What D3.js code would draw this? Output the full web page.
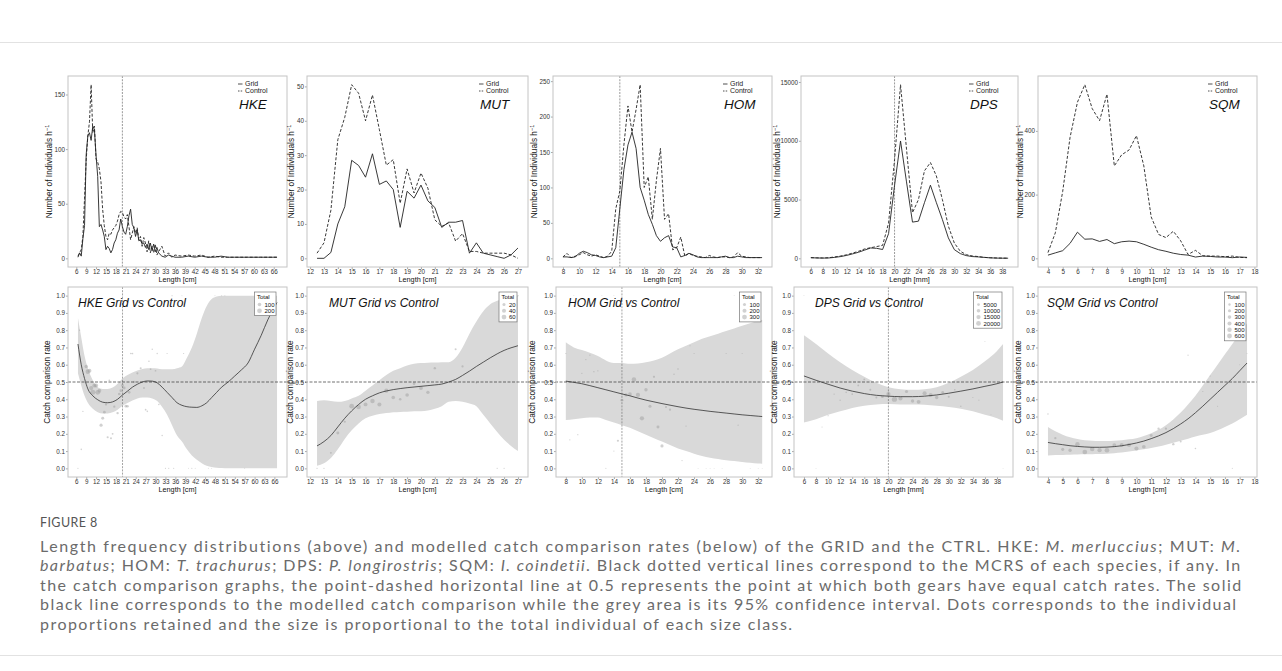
<!DOCTYPE html>
<html>
<head>
<meta charset="utf-8">
<script src="https://cdn.jsdelivr.net/npm/d3@7/dist/d3.min.js"></script>
<style>
  body { margin: 0; background: #fff; }
  #fig text { font-family: "Liberation Sans", Arial, sans-serif; }
  #fig .caption text { font-family: "Lato", "Open Sans", sans-serif; }
</style>
</head>
<body>
<svg id="fig" width="1282" height="671"></svg>
<script>
// ---------- length frequency (top row) ----------
const hkeLen = [6.5,7,7.5,8,8.5,9,9.5,10,10.5,11,11.5,12,12.5,13,13.5,14,14.5,15,15.5,16,16.5,17,17.5,18,18.5,19,19.5,20,20.5,21,21.5,22,22.5,23,23.5,24,24.5,25,25.5,26,26.5,27,27.5,28,28.5,29,29.5,30,30.5,31,32,33,34,35,36,38,40,42,44,46,48,50,52,54,56,58,60,62,64,66,67];
const hkeGrid = [1,5,2,18,30,95,112,115,108,121,118,94,75,29,31,26,20,8,11,9,5,8,14,17,23,26,36,29,24,22,29,39,45,31,28,20,26,16,17,13,14,10,13,8,14,7,13,6,10,5,2,1,3,2,1,1,2,1,2,1,1,2,1,1,1,1,1,1,1,1,1];
const hkeCtrl = [2,5,8,20,55,90,112,125,159,115,121,91,88,82,70,45,30,20,17,23,22,26,28,30,34,40,43,42,38,36,40,29,17,23,29,23,28,17,20,11,19,14,6,16,5,11,5,13,3,6,11,2,5,1,3,2,3,2,3,1,2,1,1,1,1,1,1,1,1,1,1];

const mutLen = [12.5,13,13.5,14,14.5,15,15.5,16,16.5,17,17.5,18,18.5,19,19.5,20,20.5,21,21.5,22,22.5,23,23.5,24,24.5,25,25.5,26,26.5,27];
const mutGrid = [0,0,1.7,10,15,28.5,27,23.6,30.4,21.5,22.5,20,9,19.5,17.5,21.3,16.7,14.8,9,10.5,10.5,11,1.5,4.5,1.5,1,0.5,0,1,3];
const mutCtrl = [1.5,4.5,14,34.5,41,50.5,48,40,47.5,37.4,27.1,28.7,16,26,19,24.8,20.4,11.2,9.3,10.3,5,7.2,2,2,1.5,1.5,1.5,1.5,1,0];

const homLen = [8,8.5,9,9.5,10,10.5,11,11.5,12,12.5,13,13.5,14,14.5,15,15.5,16,16.5,17,17.5,18,18.5,19,19.5,20,20.5,21,21.5,22,22.5,23,23.5,24,24.5,25,25.5,26,26.5,27,27.5,28,28.5,29,29.5,30,30.5,31,31.5,32,32.5];
const homGrid = [2,2,1,2,7,10,8,5,4,2,1,2,3,15,70,125,160,178,155,100,82,62,48,32,24,29,32,16,15,2,4,7,5,2,1,1,1,1,1,2,3,1,1,3,2,1,1,1,1,1];
const homCtrl = [2,7,1,3,5,8,5,3,5,3,1,3,10,70,95,160,215,178,210,245,100,115,55,110,155,55,63,12,15,30,3,7,4,3,2,1,4,2,1,2,2,1,2,8,3,2,1,1,1,1];

const dpsLen = [6,7,8,9,10,11,12,13,14,15,16,17,18,19,20,21,22,23,24,25,26,27,28,29,30,31,32,33,34,35,36,37,38,39];
const dpsGrid = [50,30,20,30,80,150,250,380,520,700,880,850,750,2100,6200,9980,6500,3080,3160,4730,6220,4730,3300,1740,740,400,230,150,120,80,40,20,10,10];
const dpsCtrl = [60,40,30,50,120,200,300,450,600,800,900,1000,1100,3000,8400,14770,9300,3880,5000,7440,8150,7000,5000,2740,1300,600,310,200,150,80,50,30,20,10];

const sqmLen = [4,4.5,5,5.5,6,6.5,7,7.5,8,8.5,9,9.5,10,10.5,11,11.5,12,12.5,13,13.5,14,14.5,15,15.5,16,16.5,17,17.5];
const sqmGrid = [10,17,24,47,82,60,61,53,59,46,52,54,52,44,35,27,22,16,12,10,4,7,6,4,4,2,4,3];
const sqmCtrl = [18,80,210,380,490,545,470,432,515,290,325,340,385,290,130,75,65,85,55,12,25,8,7,7,5,7,3,2];

// ---------- catch comparison (bottom row): model, 95% CI ----------
const hkeFitLen = [6.5,7.5,8.5,9.5,11,12.5,14,15.5,17,18.5,20,21.5,23,24.5,26,27.5,29,30.5,32,33.5,35,36.5,38,39.5,41,42.5,44,45.5,47,48.5,50,52,54,56,58,60,62,64,66.8];
const hkeFit = [0.72,0.60,0.52,0.46,0.42,0.397,0.383,0.38,0.385,0.40,0.425,0.447,0.47,0.487,0.50,0.506,0.505,0.495,0.47,0.44,0.41,0.38,0.365,0.357,0.354,0.353,0.362,0.38,0.41,0.44,0.47,0.50,0.535,0.57,0.61,0.69,0.77,0.86,0.96];
const hkeUpp = [0.87,0.757,0.65,0.58,0.51,0.47,0.46,0.46,0.468,0.49,0.52,0.54,0.555,0.566,0.575,0.58,0.58,0.578,0.574,0.574,0.574,0.58,0.59,0.64,0.70,0.78,0.87,0.94,0.98,0.995,1,1,1,1,1,1,1,1,1];
const hkeLow = [0.55,0.48,0.42,0.38,0.345,0.325,0.318,0.318,0.325,0.34,0.362,0.378,0.393,0.405,0.41,0.41,0.405,0.39,0.355,0.31,0.25,0.19,0.155,0.11,0.075,0.05,0.03,0.015,0.008,0.004,0.002,0,0,0,0,0,0,0,0];

const mutFitLen = mutLen;
const mutFit = [0.13,0.155,0.19,0.24,0.29,0.333,0.37,0.40,0.42,0.437,0.448,0.456,0.462,0.467,0.471,0.475,0.479,0.483,0.488,0.50,0.515,0.538,0.563,0.59,0.615,0.64,0.663,0.683,0.698,0.71];
const mutUpp = [0.39,0.395,0.39,0.385,0.39,0.405,0.42,0.45,0.48,0.51,0.54,0.565,0.58,0.595,0.605,0.61,0.612,0.613,0.615,0.615,0.64,0.70,0.78,0.85,0.91,0.95,0.97,0.98,0.99,1.0];
const mutLow = [0.015,0.03,0.06,0.11,0.17,0.22,0.26,0.29,0.305,0.315,0.32,0.325,0.327,0.328,0.33,0.33,0.335,0.345,0.36,0.385,0.39,0.385,0.375,0.36,0.31,0.26,0.21,0.165,0.13,0.10];

const homFitLen = [8,9,10,11,12,13,14,15,16,17,18,19,20,21,22,23,24,25,26,27,28,29,30,31,32,32.5];
const homFit = [0.505,0.498,0.49,0.479,0.467,0.455,0.443,0.431,0.42,0.407,0.395,0.385,0.375,0.366,0.357,0.349,0.342,0.336,0.33,0.325,0.32,0.315,0.31,0.306,0.302,0.30];
const homUpp = [0.73,0.70,0.685,0.67,0.65,0.625,0.61,0.61,0.605,0.607,0.615,0.625,0.64,0.665,0.69,0.71,0.73,0.75,0.765,0.78,0.795,0.81,0.825,0.84,0.855,0.86];
const homLow = [0.28,0.285,0.29,0.295,0.295,0.28,0.265,0.25,0.235,0.215,0.195,0.175,0.155,0.135,0.115,0.10,0.085,0.072,0.062,0.054,0.047,0.042,0.037,0.032,0.028,0.027];

const dpsFitLen = [6,8,10,12,14,16,18,20,22,24,26,28,30,32,34,36,38,39];
const dpsFit = [0.535,0.51,0.487,0.465,0.447,0.433,0.423,0.418,0.415,0.415,0.418,0.425,0.435,0.447,0.46,0.475,0.49,0.50];
const dpsUpp = [0.77,0.72,0.665,0.615,0.57,0.53,0.495,0.47,0.458,0.455,0.458,0.47,0.495,0.53,0.57,0.62,0.68,0.72];
const dpsLow = [0.265,0.285,0.31,0.33,0.35,0.362,0.37,0.372,0.37,0.37,0.368,0.362,0.355,0.345,0.33,0.31,0.29,0.275];

const sqmFitLen = sqmLen;
const sqmFit = [0.15,0.143,0.137,0.131,0.127,0.124,0.122,0.122,0.123,0.126,0.131,0.138,0.147,0.158,0.172,0.188,0.207,0.23,0.257,0.287,0.322,0.36,0.40,0.44,0.48,0.52,0.565,0.61];
const sqmUpp = [0.24,0.215,0.195,0.18,0.17,0.163,0.16,0.158,0.158,0.16,0.163,0.168,0.175,0.187,0.203,0.223,0.25,0.283,0.323,0.37,0.42,0.48,0.54,0.60,0.66,0.72,0.78,0.84];
const sqmLow = [0.075,0.077,0.078,0.079,0.08,0.081,0.082,0.083,0.085,0.088,0.092,0.097,0.103,0.11,0.118,0.127,0.137,0.148,0.16,0.172,0.185,0.195,0.205,0.22,0.24,0.26,0.285,0.31];

// ---------- observed proportions (dots) ----------
const hkePtLen  = [6.5,7,7.5,8,9,9.5,10,10.5,11,11.5,12,12.5,13,13.5,14,14.5,15,15.5,16,16.5,17,17.5,18.5,19,19.5,20,20.5,21,21.5,22,22.5,23,23.5,24.5,25.5,26.5,27,27.5,28,28.5,29,30,30.5,31,32,33,33.5,34,35,35.5,38,38.5,40,41,42,46,47,48,50,51,57];
const hkePtRate = [0,0.80,0.11,0.33,0.59,0.56,0.565,0.465,0.44,0.48,0.48,0.44,0.45,0.25,0.29,0.325,0.37,0.18,0.51,0.175,0.20,0.357,0.32,0.43,0.45,0.48,0.465,0.36,0.36,0.44,0.665,0.665,0.50,0.55,0.58,0.465,0.34,0.33,0.62,0.575,0.69,0.565,0.665,0.37,0.19,0,0.665,0,1,0,1,0.665,0,0,0,0,0,1,1,1,0];
const hkePtTot  = [2,5,9,6,90,180,120,150,220,140,130,200,110,70,60,50,30,25,12,20,15,30,35,40,50,60,55,45,40,50,10,12,30,25,20,18,12,10,8,15,6,12,5,8,6,3,3,2,2,2,1,3,1,2,1,1,1,1,1,1,1];

const mutPtLen  = [12.5,13,13.5,14,14.5,15,15.5,16,16.5,17,17.5,18,18.5,19,19.5,20,20.5,21,21.5,22.5,23,24,25.5,26,27];
const mutPtRate = [0,0,0.09,0.205,0.27,0.36,0.355,0.37,0.39,0.37,0.45,0.41,0.40,0.425,0.49,0.465,0.44,0.58,0.50,0.69,0.59,0.495,0,0,1];
const mutPtTot  = [1,1,5,18,8,60,55,35,50,40,45,30,12,30,15,35,25,10,8,6,8,3,1,1,2];

const homPtLen  = [8,8.5,9,9.5,10,10.5,11,11.5,12,12.5,13,14,14,14.5,15,15.5,16,16.5,17,17.5,18,18.5,19,19.5,20,20.5,21,21.5,22,22.5,23,23.5,24,24.5,25.5,26,26.5,27.5,28,29,29.5,30,31,32,32.5];
const homPtRate = [0.665,0.165,1,0.195,0.55,0.63,0.655,0.56,0.565,1,0,1,0.10,0.16,0.395,0.425,0.43,0.515,0.425,0.29,0.455,0.36,0.53,0.24,0.13,0.355,0.34,0.545,0.575,0.045,0.245,0.71,0.665,0,0,0,0,0,0.665,1,0.25,0.665,0,0,0];
const homPtTot  = [3,5,1,4,8,6,5,8,6,1,2,1,3,40,90,120,160,250,220,230,130,100,40,90,110,35,40,8,15,5,6,4,3,1,1,1,1,1,3,1,6,3,1,1,1];

const dpsPtLen  = [6,8,9,10,11,12,13,14,15,16,17,18,19,20,21,22,23,24,25,26,27,28,29,30,31,32,34,35,36,37,39];
const dpsPtRate = [1,0,0.24,0.305,0.43,0.395,0.44,0.43,0.48,0.515,0.455,0.41,0.415,0.43,0.40,0.405,0.445,0.39,0.385,0.435,0.425,0.41,0.44,0.415,0.455,0.36,0.41,0.395,0.735,0.31,0];
const dpsPtTot  = [50,60,150,300,500,700,900,1200,1500,1800,1900,1800,5000,14000,24000,14000,7000,8000,12000,14000,12000,8500,4500,2200,1000,600,250,150,80,50,20];

const sqmPtLen  = [4,4.5,5,5.5,6,6.5,7,7.5,8,8.5,9,9.5,10,10.5,11,11.5,12,12.5,13,13.5,14,14.5,15,15.5,16.5,17,17.5];
const sqmPtRate = [0.315,0.175,0.11,0.105,0.14,0.095,0.112,0.105,0.105,0.135,0.135,0.135,0.115,0.125,0.19,0.23,0.23,0.14,0.155,0.655,0.115,0.445,0.535,0.36,0,0.6,0.665];
const sqmPtTot  = [20,90,200,250,500,550,520,450,560,330,360,380,420,320,170,100,90,100,60,10,25,8,6,6,4,3,3];

// ---------- ticks and legends ----------
const hkeXTicks = [6,9,12,15,18,21,24,27,30,33,36,39,42,45,48,51,54,57,60,63,66];
const mutXTicks = [12,13,14,15,16,17,18,19,20,21,22,23,24,25,26,27];
const homXTicks = [8,10,12,14,16,18,20,22,24,26,28,30,32];
const dpsXTicks = [6,8,10,12,14,16,18,20,22,24,26,28,30,32,34,36,38];
const sqmXTicks = [4,5,6,7,8,9,10,11,12,13,14,15,16,17,18];
const hkeYTicks = [0,50,100,150];
const mutYTicks = [0,10,20,30,40,50];
const homYTicks = [0,50,100,150,200,250];
const dpsYTicks = [0,5000,10000,15000];
const sqmYTicks = [0,200,400];
const rateTicks = [0,0.1,0.2,0.3,0.4,0.5,0.6,0.7,0.8,0.9,1.0];

const hkeTotals = [100,200];
const mutTotals = [20,40,60];
const homTotals = [100,200,300];
const dpsTotals = [5000,10000,15000,20000];
const sqmTotals = [100,200,300,400,500,600];

const species = [
    {code: 'HKE', unit: 'cm', mcrs: 20,
     top: {len: hkeLen, grid: hkeGrid, ctrl: hkeCtrl, xt: hkeXTicks, yt: hkeYTicks},
     bot: {len: hkeFitLen, fit: hkeFit, upp: hkeUpp, low: hkeLow, pl: hkePtLen, pr: hkePtRate, pt: hkePtTot, xt: hkeXTicks, totals: hkeTotals}},
    {code: 'MUT', unit: 'cm', mcrs: null,
     top: {len: mutLen, grid: mutGrid, ctrl: mutCtrl, xt: mutXTicks, yt: mutYTicks},
     bot: {len: mutFitLen, fit: mutFit, upp: mutUpp, low: mutLow, pl: mutPtLen, pr: mutPtRate, pt: mutPtTot, xt: mutXTicks, totals: mutTotals}},
    {code: 'HOM', unit: 'cm', mcrs: 15,
     top: {len: homLen, grid: homGrid, ctrl: homCtrl, xt: homXTicks, yt: homYTicks},
     bot: {len: homFitLen, fit: homFit, upp: homUpp, low: homLow, pl: homPtLen, pr: homPtRate, pt: homPtTot, xt: homXTicks, totals: homTotals}},
    {code: 'DPS', unit: 'mm', mcrs: 20,
     top: {len: dpsLen, grid: dpsGrid, ctrl: dpsCtrl, xt: dpsXTicks, yt: dpsYTicks},
     bot: {len: dpsFitLen, fit: dpsFit, upp: dpsUpp, low: dpsLow, pl: dpsPtLen, pr: dpsPtRate, pt: dpsPtTot, xt: dpsXTicks, totals: dpsTotals}},
    {code: 'SQM', unit: 'cm', mcrs: null,
     top: {len: sqmLen, grid: sqmGrid, ctrl: sqmCtrl, xt: sqmXTicks, yt: sqmYTicks},
     bot: {len: sqmFitLen, fit: sqmFit, upp: sqmUpp, low: sqmLow, pl: sqmPtLen, pr: sqmPtRate, pt: sqmPtTot, xt: sqmXTicks, totals: sqmTotals}}
];

// panel frames in page pixels
const topRow = {top: 76, bottom: 267, left: [68, 307, 553, 801, 1038], right: [287, 528, 772, 1018, 1257], yTitle: [16, 13, 16, 21, 15]};
const botRow = {top: 287, bottom: 477, left: [68, 307, 556, 794, 1038], right: [287, 528, 772, 1013, 1257], yTitle: [18, 14, 21, 17, 17], titleDx: [10, 22, 12, 21, 9]};

const frameColor = '#c4c4c4';
const ribbonColor = '#d9d9d9';

const svg = d3.select('#fig');

// page rules
svg.append('line').attr('x1', 0).attr('x2', 1282).attr('y1', 42.5).attr('y2', 42.5).attr('stroke', '#e2e2e2');
svg.append('line').attr('x1', 0).attr('x2', 1282).attr('y1', 655.5).attr('y2', 655.5).attr('stroke', '#e2e2e2');

function styleAxis(g) {
    g.select('.domain').remove();
    g.attr('font-family', null).attr('font-size', null);
    g.selectAll('line').attr('stroke', '#555').attr('stroke-width', 0.5);
    g.selectAll('text').attr('font-size', 6.3).attr('fill', '#333');
}

function expand(ext) {
    const pad = (ext[1] - ext[0]) * 0.05;
    return [ext[0] - pad, ext[1] + pad];
}

function yTitle(g, x, yMid, label, sup) {
    const t = g.append('text')
        .attr('transform', `translate(${x},${yMid}) rotate(-90)`)
        .attr('text-anchor', 'middle')
        .attr('font-size', 8.3)
        .attr('fill', '#111');
    t.append('tspan').text(label);
    if (sup) t.append('tspan').attr('dy', -3).attr('font-size', 5.5).text(sup);
}

function drawTop(sp, i) {
    const d = sp.top;
    const left = topRow.left[i], right = topRow.right[i];
    const x = d3.scaleLinear().domain(expand(d3.extent(d.len))).range([left, right]);
    const y = d3.scaleLinear().domain(expand([0, d3.max(d.grid.concat(d.ctrl))])).range([topRow.bottom, topRow.top]);
    const g = svg.append('g');

    g.append('g').attr('transform', `translate(0,${topRow.bottom})`)
        .call(d3.axisBottom(x).tickValues(d.xt).tickSize(2).tickPadding(1).tickFormat(d3.format('d')))
        .call(styleAxis);
    g.append('g').attr('transform', `translate(${left},0)`)
        .call(d3.axisLeft(y).tickValues(d.yt).tickSize(2).tickPadding(1).tickFormat(d3.format('d')))
        .call(styleAxis);

    if (sp.mcrs) {
        g.append('line')
            .attr('x1', x(sp.mcrs)).attr('x2', x(sp.mcrs))
            .attr('y1', topRow.top).attr('y2', topRow.bottom)
            .attr('stroke', '#555').attr('stroke-width', 0.6).attr('stroke-dasharray', '2,1.2');
    }

    const line = d3.line().x((v, j) => x(d.len[j])).y(v => y(v));
    g.append('path').datum(d.ctrl).attr('d', line)
        .attr('fill', 'none').attr('stroke', '#222').attr('stroke-width', 0.9).attr('stroke-dasharray', '3,1.8');
    g.append('path').datum(d.grid).attr('d', line)
        .attr('fill', 'none').attr('stroke', '#222').attr('stroke-width', 0.9);

    g.append('rect').attr('x', left).attr('y', topRow.top)
        .attr('width', right - left).attr('height', topRow.bottom - topRow.top)
        .attr('fill', 'none').attr('stroke', frameColor).attr('stroke-width', 1);

    // legend + species code
    const lx = right - 49;
    const keys = [['Grid', null], ['Control', '1.5,1.2']];
    keys.forEach(function(k, j) {
        const ly = topRow.top + 8 + j * 7;
        g.append('line').attr('x1', lx).attr('x2', lx + 4.5).attr('y1', ly).attr('y2', ly)
            .attr('stroke', '#222').attr('stroke-width', 0.8).attr('stroke-dasharray', k[1]);
        g.append('text').attr('x', lx + 7).attr('y', ly + 2.3).attr('font-size', 7).attr('fill', '#222').text(k[0]);
    });
    g.append('text').attr('x', lx + 1).attr('y', topRow.top + 33)
        .attr('font-size', 13.5).attr('font-style', 'italic').attr('fill', '#111').text(sp.code);

    g.append('text').attr('x', (left + right) / 2).attr('y', topRow.bottom + 14.5)
        .attr('text-anchor', 'middle').attr('font-size', 7.3).attr('fill', '#111')
        .text('Length [' + sp.unit + ']');
    yTitle(g, left - topRow.yTitle[i], (topRow.top + topRow.bottom) / 2, 'Number of Individuals h', '\u22121');
}

function drawBottom(sp, i) {
    const b = sp.bot;
    const left = botRow.left[i], right = botRow.right[i];
    const x = d3.scaleLinear().domain(expand(d3.extent(b.len.concat(b.pl)))).range([left, right]);
    const y = d3.scaleLinear().domain(expand([0, 1])).range([botRow.bottom, botRow.top]);
    const r = d3.scaleSqrt().domain([0, d3.max(b.totals)]).range([0.35, 2.4]);
    const g = svg.append('g');

    g.append('g').attr('transform', `translate(0,${botRow.bottom})`)
        .call(d3.axisBottom(x).tickValues(b.xt).tickSize(2).tickPadding(1).tickFormat(d3.format('d')))
        .call(styleAxis);
    g.append('g').attr('transform', `translate(${left},0)`)
        .call(d3.axisLeft(y).tickValues(rateTicks).tickSize(2).tickPadding(1).tickFormat(d3.format('.1f')))
        .call(styleAxis);

    const area = d3.area().curve(d3.curveMonotoneX)
        .x((v, j) => x(b.len[j])).y0((v, j) => y(b.low[j])).y1((v, j) => y(b.upp[j]));
    g.append('path').datum(b.fit).attr('d', area).attr('fill', ribbonColor);

    if (sp.mcrs) {
        g.append('line')
            .attr('x1', x(sp.mcrs)).attr('x2', x(sp.mcrs))
            .attr('y1', botRow.top).attr('y2', botRow.bottom)
            .attr('stroke', '#666').attr('stroke-width', 0.6).attr('stroke-dasharray', '2,1.2');
    }

    g.selectAll('circle.pt').data(b.pl).enter().append('circle')
        .attr('class', 'pt')
        .attr('cx', v => x(v))
        .attr('cy', (v, j) => y(b.pr[j]))
        .attr('r', (v, j) => r(b.pt[j]))
        .attr('fill', '#999').attr('fill-opacity', 0.45);

    const line = d3.line().curve(d3.curveMonotoneX).x((v, j) => x(b.len[j])).y(v => y(v));
    g.append('path').datum(b.fit).attr('d', line)
        .attr('fill', 'none').attr('stroke', '#333').attr('stroke-width', 0.8);

    // point-dashed line at 0.5, running into the gap on the left
    const hStart = i === 0 ? left : botRow.right[i - 1];
    g.append('line').attr('x1', hStart).attr('x2', right).attr('y1', y(0.5)).attr('y2', y(0.5))
        .attr('stroke', '#333').attr('stroke-width', 0.7).attr('stroke-dasharray', '3,1.5');

    g.append('rect').attr('x', left).attr('y', botRow.top)
        .attr('width', right - left).attr('height', botRow.bottom - botRow.top)
        .attr('fill', 'none').attr('stroke', frameColor).attr('stroke-width', 1);

    g.append('text').attr('x', left + botRow.titleDx[i]).attr('y', botRow.top + 20)
        .attr('font-size', 12).attr('font-style', 'italic').attr('fill', '#111')
        .text(sp.code + ' Grid vs Control');

    // size legend
    const maxChars = d3.max(b.totals, v => String(v).length);
    const boxW = 11 + maxChars * 3.5;
    const boxH = 11 + b.totals.length * 6.3;
    const lg = g.append('g').attr('transform', `translate(${right - 11 - boxW},${botRow.top + 5})`);
    lg.append('rect').attr('width', boxW).attr('height', boxH)
        .attr('fill', '#fff').attr('stroke', '#777').attr('stroke-width', 0.7);
    lg.append('text').attr('x', 2.5).attr('y', 6.5).attr('font-size', 6).attr('fill', '#111').text('Total');
    b.totals.forEach(function(v, k) {
        lg.append('circle').attr('cx', 5).attr('cy', 12.5 + k * 6.3).attr('r', r(v))
            .attr('fill', '#999').attr('fill-opacity', 0.45);
        lg.append('text').attr('x', 10).attr('y', 14.6 + k * 6.3).attr('font-size', 6).attr('fill', '#111').text(v);
    });

    g.append('text').attr('x', (left + right) / 2).attr('y', botRow.bottom + 14.5)
        .attr('text-anchor', 'middle').attr('font-size', 7.3).attr('fill', '#111')
        .text('Length [' + sp.unit + ']');
    yTitle(g, left - botRow.yTitle[i], (botRow.top + botRow.bottom) / 2, 'Catch comparison rate', null);
}

species.forEach(drawTop);
species.forEach(drawBottom);

// ---------- caption ----------
const captionLines = [
    [['Length frequency distributions (above) and modelled catch comparison rates (below) of the GRID and the CTRL. HKE: ', 0], ['M. merluccius', 1], ['; MUT: ', 0], ['M.', 1]],
    [['barbatus', 1], ['; HOM: ', 0], ['T. trachurus', 1], ['; DPS: ', 0], ['P. longirostris', 1], ['; SQM: ', 0], ['I. coindetii', 1], ['. Black dotted vertical lines correspond to the MCRS of each species, if any. In', 0]],
    [['the catch comparison graphs, the point-dashed horizontal line at 0.5 represents the point at which both gears have equal catch rates. The solid', 0]],
    [['black line corresponds to the modelled catch comparison while the grey area is its 95% confidence interval. Dots corresponds to the individual', 0]],
    [['proportions retained and the size is proportional to the total individual of each size class.', 0]]
];
// width of each caption line in the reference
const captionWidths = [1201, 1201, 1202, 1197, 753];

const cap = svg.append('g').attr('class', 'caption');
cap.append('text').attr('x', 40).attr('y', 527).attr('font-size', 12.5).attr('fill', '#555')
    .attr('letter-spacing', 0.4).text('FIGURE 8');
captionLines.forEach(function(parts, k) {
    const t = cap.append('text').attr('x', 40).attr('y', 551.5 + k * 19.5)
        .attr('font-size', 16).attr('letter-spacing', 0.85).attr('fill', '#6b6b6b')
        .attr('textLength', captionWidths[k]).attr('lengthAdjust', 'spacing');
    parts.forEach(function(p) {
        t.append('tspan').attr('font-style', p[1] ? 'italic' : 'normal').text(p[0]);
    });
});
</script>
</body>
</html>
